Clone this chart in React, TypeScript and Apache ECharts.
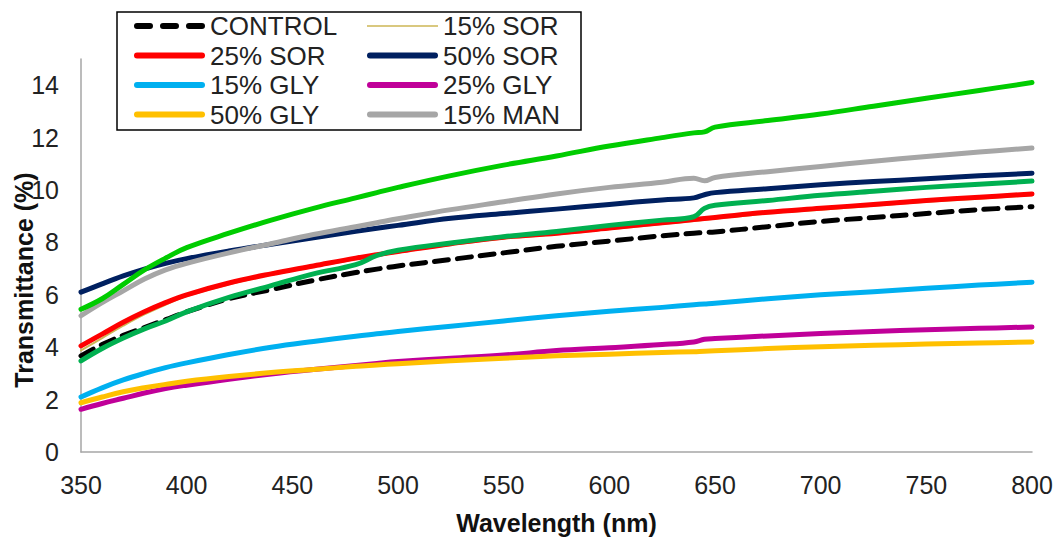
import React, { useEffect, useRef } from "react";
import * as echarts from "echarts";

const wavelengths = [350, 360, 370, 380, 390, 400, 420, 440, 460, 480, 490, 500, 525, 550, 575, 600, 625, 640, 645, 650, 675, 700, 725, 750, 775, 800];

const control = [3.67, 4.1, 4.45, 4.75, 5.05, 5.35, 5.85, 6.2, 6.55, 6.85, 6.98, 7.1, 7.35, 7.6, 7.85, 8.05, 8.25, 8.35, 8.38, 8.4, 8.6, 8.8, 8.95, 9.1, 9.25, 9.36];
const sor15 = [3.88, 4.35, 4.82, 5.25, 5.62, 5.95, 6.4, 6.76, 7.06, 7.36, 7.49, 7.61, 7.9, 8.15, 8.3, 8.5, 8.7, 8.82, 8.86, 8.9, 9.1, 9.25, 9.4, 9.55, 9.67, 9.8];
const sor25 = [4.05, 4.5, 4.95, 5.35, 5.7, 6.0, 6.45, 6.8, 7.1, 7.4, 7.53, 7.65, 7.95, 8.2, 8.35, 8.55, 8.75, 8.87, 8.91, 8.95, 9.15, 9.3, 9.45, 9.6, 9.72, 9.85];
const sor50 = [6.1, 6.42, 6.72, 6.98, 7.2, 7.38, 7.67, 7.93, 8.18, 8.42, 8.54, 8.65, 8.92, 9.1, 9.27, 9.45, 9.62, 9.7, 9.82, 9.9, 10.05, 10.2, 10.32, 10.43, 10.54, 10.64];
const gly15 = [2.1, 2.45, 2.75, 3.0, 3.22, 3.4, 3.72, 4.0, 4.22, 4.42, 4.51, 4.6, 4.8, 5.0, 5.2, 5.37, 5.52, 5.62, 5.65, 5.68, 5.85, 6.0, 6.12, 6.25, 6.37, 6.48];
const gly25 = [1.63, 1.85, 2.05, 2.25, 2.42, 2.55, 2.78, 2.98, 3.15, 3.3, 3.38, 3.45, 3.58, 3.7, 3.87, 3.98, 4.1, 4.2, 4.3, 4.33, 4.43, 4.52, 4.6, 4.67, 4.72, 4.77];
const gly50 = [1.88, 2.1, 2.3, 2.45, 2.58, 2.7, 2.88, 3.03, 3.15, 3.27, 3.32, 3.37, 3.48, 3.58, 3.67, 3.73, 3.8, 3.83, 3.85, 3.86, 3.95, 4.02, 4.07, 4.12, 4.16, 4.2];
const man15 = [5.2, 5.7, 6.15, 6.6, 6.95, 7.2, 7.6, 7.95, 8.3, 8.6, 8.75, 8.9, 9.25, 9.55, 9.85, 10.1, 10.3, 10.45, 10.35, 10.48, 10.7, 10.9, 11.1, 11.28, 11.45, 11.6];
const man25 = [5.45, 5.85, 6.4, 6.95, 7.4, 7.8, 8.35, 8.85, 9.3, 9.7, 9.9, 10.1, 10.55, 10.95, 11.3, 11.68, 12.0, 12.18, 12.22, 12.4, 12.65, 12.9, 13.2, 13.5, 13.8, 14.1];
const man50 = [3.48, 3.95, 4.35, 4.7, 5.0, 5.35, 5.9, 6.35, 6.8, 7.15, 7.5, 7.7, 7.98, 8.22, 8.42, 8.65, 8.85, 8.98, 9.3, 9.42, 9.6, 9.8, 9.95, 10.1, 10.22, 10.34];

const xTicks = [350, 400, 450, 500, 550, 600, 650, 700, 750, 800];
const yTicks = [0, 2, 4, 6, 8, 10, 12, 14];

const legendCol1 = ["CONTROL", "25% SOR", "15% GLY", "50% GLY"];
const legendCol2 = ["15% SOR", "50% SOR", "25% GLY", "15% MAN"];

const FONT = "'Liberation Sans', Arial, sans-serif";

// legend icons (bounding box 71 x 6)
const ICON_SOLID = "path://M3,0h65a3,3 0 0 1 0,6h-65a3,3 0 0 1 0,-6z";
const ICON_THIN = "path://M0,0h0.01v0.01h-0.01z M0,2.3h71v1.4h-71z M70.99,5.99h0.01v0.01h-0.01z";
const ICON_DASH = "path://M3,0h13a3,3 0 0 1 0,6h-13a3,3 0 0 1 0,-6z M29,0h13a3,3 0 0 1 0,6h-13a3,3 0 0 1 0,-6z M55,0h13a3,3 0 0 1 0,6h-13a3,3 0 0 1 0,-6z";

const iconFor = (name: string) => (name === "CONTROL" ? ICON_DASH : name === "15% SOR" ? ICON_THIN : ICON_SOLID);

export default function App() {
  const ref = useRef<HTMLDivElement>(null);
  useEffect(() => {
    if (!ref.current) return;
    const chart = echarts.init(ref.current, undefined, { renderer: "svg" });
    const mk = (name: string, vals: number[], color: string, width: number, type: any = "solid") => ({
      name,
      type: "line",
      data: wavelengths.map((w, i) => [w, vals[i]]),
      showSymbol: false,
      symbol: "none",
      smooth: 0.4,
      lineStyle: { color, width, type, cap: "round", join: "round" },
      itemStyle: { color },
      emphasis: { disabled: true },
    });
    const legendCommon = {
      orient: "vertical",
      itemWidth: 71,
      itemHeight: 6,
      itemGap: 3.5,
      symbolKeepAspect: true,
      textStyle: { fontFamily: FONT, fontSize: 26, color: "#222", lineHeight: 26 },
      selectedMode: false,
    };
    chart.setOption({
      animation: false,
      backgroundColor: "#fff",
      grid: { left: 81, right: 27, top: 59, bottom: 86, containLabel: false },
      legend: [
        { ...legendCommon, left: 129, top: 8, data: legendCol1.map((n) => ({ name: n, icon: iconFor(n) })) },
        { ...legendCommon, left: 362, top: 8, data: legendCol2.map((n) => ({ name: n, icon: iconFor(n) })) },
      ],
      graphic: [
        {
          type: "rect",
          shape: { x: 117, y: 12, width: 464, height: 118 },
          style: { fill: "none", stroke: "#000", lineWidth: 1.5 },
          z: 10,
        },
        {
          type: "text",
          x: 24,
          y: 280,
          rotation: Math.PI / 2,
          style: {
            text: "Transmittance (%)",
            font: `bold 25px ${FONT}`,
            fill: "#111",
            textAlign: "center",
            textVerticalAlign: "middle",
          },
        },
      ],
      xAxis: {
        type: "value",
        min: xTicks[0],
        max: xTicks[xTicks.length - 1],
        interval: 50,
        name: "Wavelength (nm)",
        nameLocation: "middle",
        nameGap: 58,
        nameTextStyle: { fontFamily: FONT, fontSize: 25, fontWeight: "bold", color: "#111" },
        axisLine: { show: true, lineStyle: { color: "#a6a6a6", width: 1.5 } },
        axisTick: { show: false },
        splitLine: { show: false },
        axisLabel: { fontFamily: FONT, fontSize: 25, color: "#222", margin: 20 },
      },
      yAxis: {
        type: "value",
        min: yTicks[0],
        max: 15,
        interval: 2,
        axisLine: { show: true, lineStyle: { color: "#a6a6a6", width: 1.5 } },
        axisTick: { show: false },
        splitLine: { show: false },
        axisLabel: { fontFamily: FONT, fontSize: 25, color: "#222", margin: 22, showMaxLabel: false },
      },
      series: [
        mk("15% SOR", sor15, "#CDB755", 2),
        mk("CONTROL", control, "#000000", 5, [14, 9]),
        mk("25% SOR", sor25, "#FF0000", 5),
        mk("50% SOR", sor50, "#002060", 5),
        mk("15% GLY", gly15, "#00B0F0", 5),
        mk("25% GLY", gly25, "#C00099", 5),
        mk("50% GLY", gly50, "#FFC000", 5),
        mk("15% MAN", man15, "#A6A6A6", 5),
        mk("25% MAN", man25, "#00CC00", 5),
        mk("50% MAN", man50, "#00B050", 5),
      ],
    });
    return () => chart.dispose();
  }, []);
  return <div ref={ref} style={{ position: "fixed", left: 0, top: 0, width: 1059, height: 540 }} />;
}
